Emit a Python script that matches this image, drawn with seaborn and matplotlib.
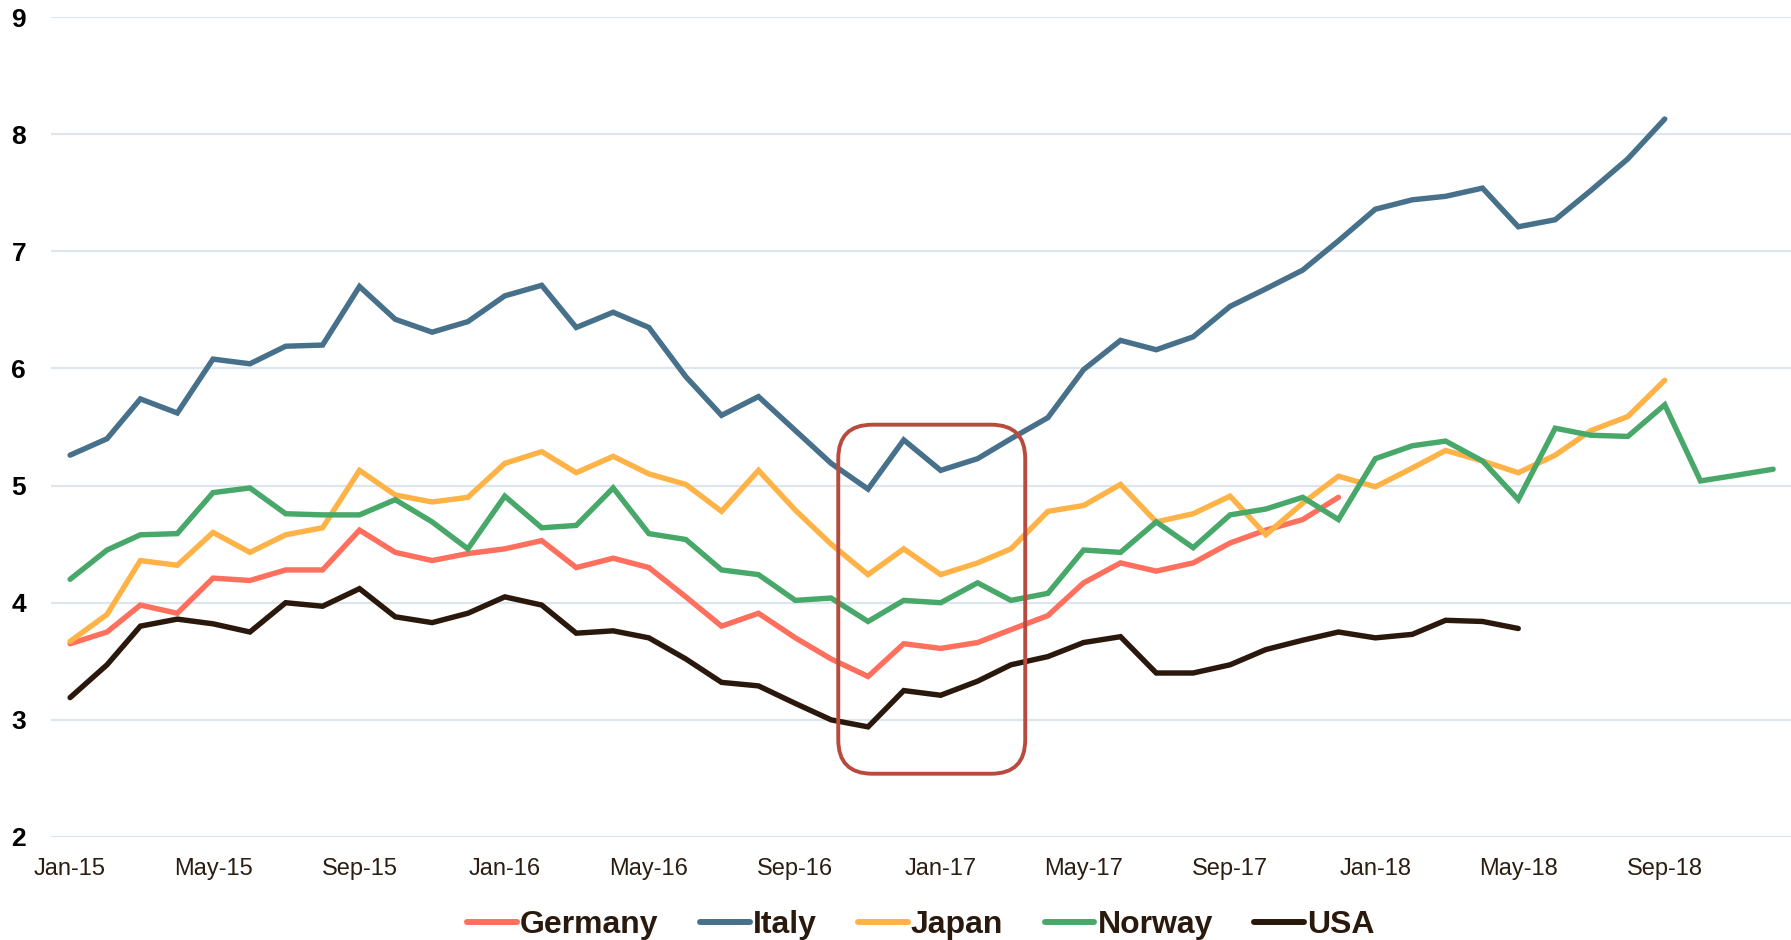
import numpy as np
import pandas as pd
import matplotlib
matplotlib.use("Agg")
from matplotlib import pyplot as plt
import matplotlib.dates as mdates
from matplotlib.patches import FancyBboxPatch
import seaborn as sns

# monthly values, Jan-15 onwards
germany = [3.65, 3.75, 3.98, 3.91, 4.21, 4.19, 4.28, 4.28, 4.62, 4.43, 4.36, 4.42,
           4.46, 4.53, 4.30, 4.38, 4.30, 4.05, 3.80, 3.91, 3.70, 3.52, 3.37, 3.65,
           3.61, 3.66, 3.77, 3.89, 4.17, 4.34, 4.27, 4.34, 4.51, 4.62, 4.71, 4.90]
italy = [5.26, 5.40, 5.74, 5.62, 6.08, 6.04, 6.19, 6.20, 6.70, 6.42, 6.31, 6.40,
         6.62, 6.71, 6.35, 6.48, 6.35, 5.93, 5.60, 5.76, 5.47, 5.19, 4.97, 5.39,
         5.13, 5.23, 5.40, 5.58, 5.99, 6.24, 6.16, 6.27, 6.53, 6.68, 6.84, 7.09,
         7.36, 7.44, 7.47, 7.54, 7.21, 7.27, 7.52, 7.79, 8.13]
japan = [3.67, 3.90, 4.36, 4.32, 4.60, 4.43, 4.58, 4.64, 5.13, 4.92, 4.86, 4.90,
         5.19, 5.29, 5.11, 5.25, 5.10, 5.01, 4.78, 5.13, 4.79, 4.50, 4.24, 4.46,
         4.24, 4.34, 4.46, 4.78, 4.83, 5.01, 4.69, 4.76, 4.91, 4.58, 4.85, 5.08,
         4.99, 5.15, 5.30, 5.21, 5.11, 5.26, 5.47, 5.59, 5.90]
norway = [4.20, 4.45, 4.58, 4.59, 4.94, 4.98, 4.76, 4.75, 4.75, 4.88, 4.69, 4.46,
          4.91, 4.64, 4.66, 4.98, 4.59, 4.54, 4.28, 4.24, 4.02, 4.04, 3.84, 4.02,
          4.00, 4.17, 4.02, 4.08, 4.45, 4.43, 4.69, 4.47, 4.75, 4.80, 4.90, 4.71,
          5.23, 5.34, 5.38, 5.21, 4.88, 5.49, 5.43, 5.42, 5.69, 5.04, 5.09, 5.14]
usa = [3.19, 3.47, 3.80, 3.86, 3.82, 3.75, 4.00, 3.97, 4.12, 3.88, 3.83, 3.91,
       4.05, 3.98, 3.74, 3.76, 3.70, 3.52, 3.32, 3.29, 3.14, 3.00, 2.94, 3.25,
       3.21, 3.33, 3.47, 3.54, 3.66, 3.71, 3.40, 3.40, 3.47, 3.60, 3.68, 3.75,
       3.70, 3.73, 3.85, 3.84, 3.78]

countries = ["Germany", "Italy", "Japan", "Norway", "USA"]
series = [germany, italy, japan, norway, usa]
colors = ["#ff6f5e", "#47718a", "#ffb347", "#48a86a", "#2a180c"]

months = pd.date_range("2015-01-01", periods=48, freq="MS")

frames = []
for name, vals in zip(countries, series):
    frames.append(pd.DataFrame({"month": months[:len(vals)], "value": vals, "country": name}))
df = pd.concat(frames, ignore_index=True)

sns.set_style("white")
plt.rcParams["font.family"] = ["Liberation Sans", "DejaVu Sans"]

fig = plt.figure(figsize=(17.91, 9.40), dpi=100)
ax = fig.add_axes([0.0285, 0.1096, 0.9715, 0.8722])

sns.lineplot(data=df, x="month", y="value", hue="country", hue_order=countries,
             palette=colors, linewidth=3.9, ax=ax, legend=False,
             solid_capstyle="round", solid_joinstyle="miter")

ax.set_xlim(pd.Timestamp("2014-12-16"), pd.Timestamp("2018-12-16"))
ax.set_ylim(2, 9)
ax.set_yticks(range(2, 10))
ax.xaxis.set_major_locator(mdates.MonthLocator(bymonth=[1, 5, 9]))
ax.xaxis.set_major_formatter(mdates.DateFormatter("%b-%y"))
ax.set_xlabel("")
ax.set_ylabel("")
ax.grid(axis="y", color="#dde6ed", linewidth=1.6)
ax.grid(axis="x", visible=False)
for s in ax.spines.values():
    s.set_visible(False)
ax.tick_params(axis="y", length=0, pad=18, labelsize=19, labelcolor="black")
ax.tick_params(axis="x", length=0, pad=15, labelsize=17, labelcolor="#2b1d10")
for lab in ax.get_yticklabels():
    lab.set_fontweight("bold")

# highlight box around the late-2016 dip
box_x0, box_x1 = pd.Timestamp("2016-10-07"), pd.Timestamp("2017-03-13")
box_y0, box_y1 = 2.54, 5.52
fig.canvas.draw()
p0 = ax.transData.transform((mdates.date2num(box_x0), box_y0))
p1 = ax.transData.transform((mdates.date2num(box_x1), box_y1))
box = FancyBboxPatch((p0[0], p0[1]), p1[0] - p0[0], p1[1] - p0[1],
                     boxstyle="round,pad=0,rounding_size=34", transform=None,
                     fill=False, edgecolor="#b94a3e", linewidth=2.8, zorder=5)
fig.patches.append(box)

handles = [plt.Line2D([], [], color=c, linewidth=4.3, solid_capstyle="round") for c in colors]
leg = ax.legend(handles, countries, loc="center", bbox_to_anchor=(0.5, -0.107),
                ncol=5, frameon=False, handlelength=1.55, handletextpad=0.1,
                columnspacing=1.3, prop={"weight": "bold", "size": 23})
for t in leg.get_texts():
    t.set_color("#2a1a0e")

fig.savefig("out.png", dpi=100)
